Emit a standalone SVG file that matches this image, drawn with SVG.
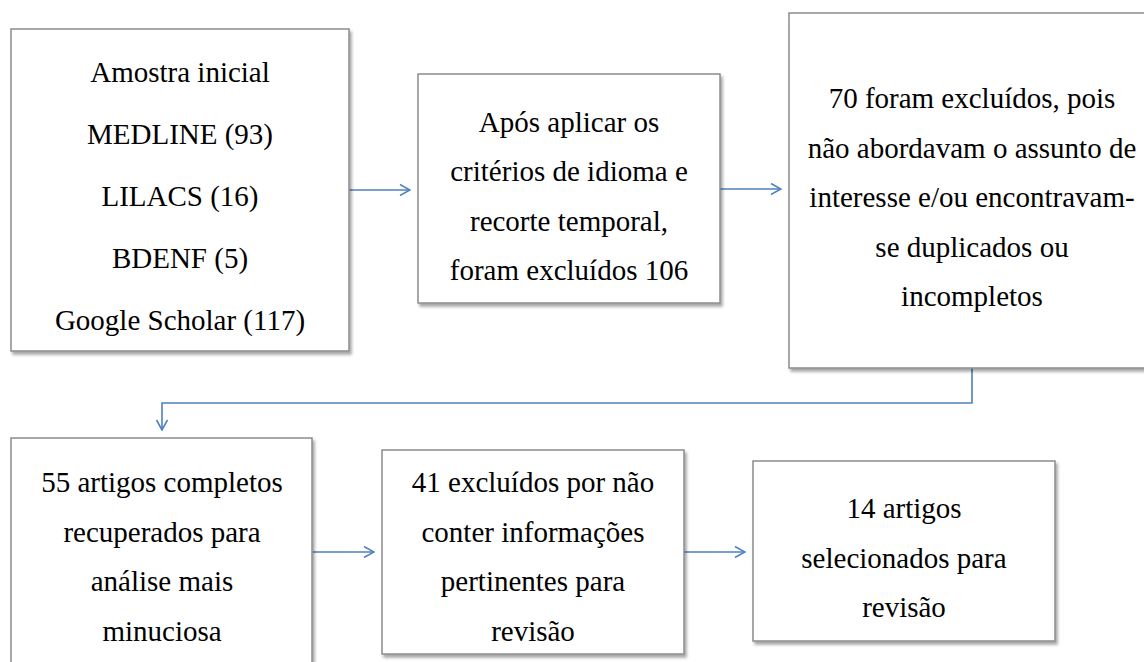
<svg xmlns="http://www.w3.org/2000/svg" width="1144" height="662" viewBox="0 0 1144 662">
<style>
.box{fill:#fff;stroke:#8c8c8c;stroke-width:1.5;filter:url(#sh)}
text{font-family:'Liberation Serif','Times New Roman',Times,'DejaVu Serif',serif;font-size:29px;fill:#000;text-anchor:middle}
.c{fill:none;stroke:#4f81bd;stroke-width:1.6}
</style>
<defs>
<filter id="sh" x="-5%" y="-5%" width="112%" height="112%">
<feDropShadow dx="2" dy="3" stdDeviation="1.5" flood-color="#000" flood-opacity="0.35"/>
</filter>
<marker id="ah" viewBox="0 0 12 12" refX="11" refY="6" markerWidth="12" markerHeight="12" markerUnits="userSpaceOnUse" orient="auto">
<path d="M1,0.5 L11,6 L1,11.5" fill="none" stroke="#4f81bd" stroke-width="1.6"/>
</marker>
</defs>
<rect width="1144" height="662" fill="#fff"/>
<g id="connectors">
<path class="c" d="M349,190 H410" marker-end="url(#ah)"/>
<path class="c" d="M720,189 H781" marker-end="url(#ah)"/>
<path class="c" d="M972,368 V403 H162 V430" marker-end="url(#ah)"/>
<path class="c" d="M313,552 H374" marker-end="url(#ah)"/>
<path class="c" d="M684,552 H745" marker-end="url(#ah)"/>
</g>
<g font-family="Liberation Serif, serif">
<g id="n1">
<rect class="box" x="11" y="29" width="338" height="322"/>
<text x="180" y="82">Amostra inicial</text>
<text x="180" y="144">MEDLINE (93)</text>
<text x="180" y="206">LILACS (16)</text>
<text x="180" y="268">BDENF (5)</text>
<text x="180" y="330">Google Scholar (117)</text>
</g>
<g id="n2">
<rect class="box" x="418" y="74" width="302" height="229"/>
<text x="569" y="132">Após aplicar os</text>
<text x="569" y="181">critérios de idioma e</text>
<text x="569" y="231">recorte temporal,</text>
<text x="569" y="280">foram excluídos 106</text>
</g>
<g id="n3">
<rect class="box" x="789" y="13" width="370" height="355"/>
<text x="972" y="108">70 foram excluídos, pois</text>
<text x="972" y="158">não abordavam o assunto de</text>
<text x="972" y="207">interesse e/ou encontravam-</text>
<text x="972" y="257">se duplicados ou</text>
<text x="972" y="306">incompletos</text>
</g>
<g id="n4">
<rect class="box" x="11" y="438" width="301" height="240"/>
<text x="162" y="492">55 artigos completos</text>
<text x="162" y="542">recuperados para</text>
<text x="162" y="591">análise mais</text>
<text x="162" y="641">minuciosa</text>
</g>
<g id="n5">
<rect class="box" x="382" y="450" width="302" height="204"/>
<text x="533" y="492">41 excluídos por não</text>
<text x="533" y="542">conter informações</text>
<text x="533" y="591">pertinentes para</text>
<text x="533" y="641">revisão</text>
</g>
<g id="n6">
<rect class="box" x="753" y="461" width="302" height="180"/>
<text x="904" y="518">14 artigos</text>
<text x="904" y="568">selecionados para</text>
<text x="904" y="617">revisão</text>
</g>
</g>
</svg>
